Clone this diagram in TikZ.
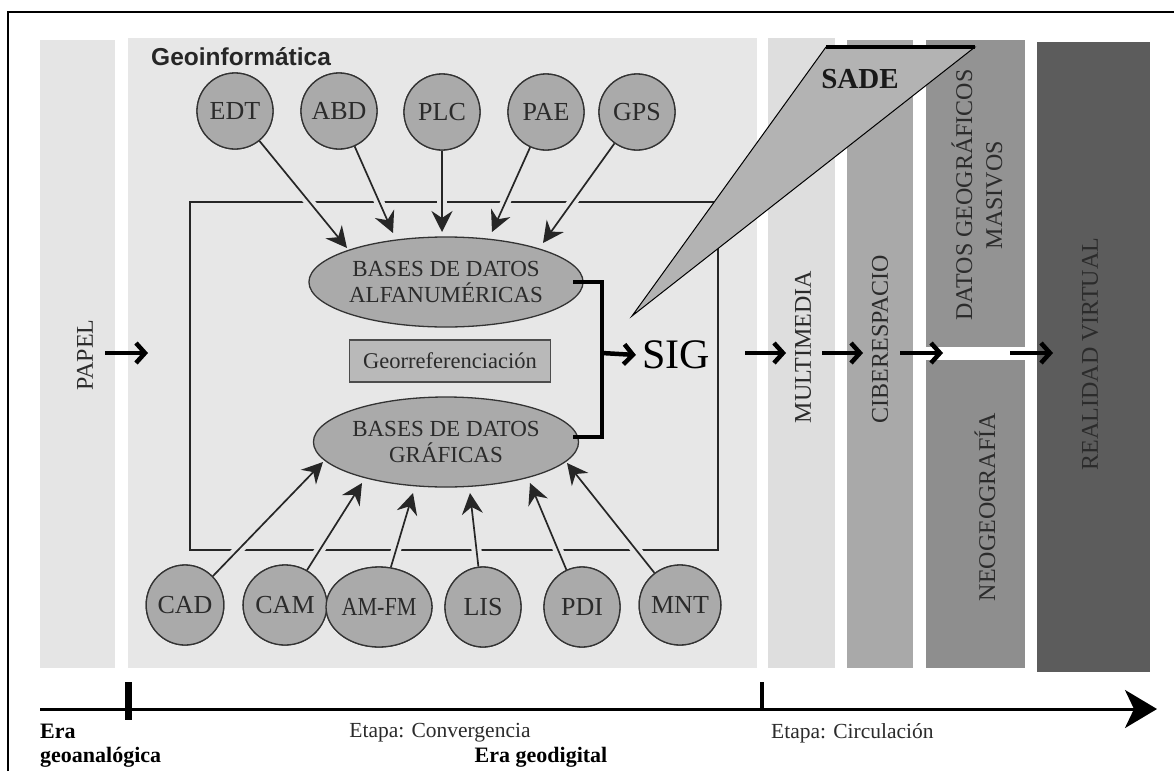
\documentclass[tikz,border=0pt]{standalone}
\usepackage{fontspec}
\setmainfont{Liberation Serif}
\newfontfamily\arialf{Liberation Sans}
\usetikzlibrary{arrows.meta,shapes.geometric}
\definecolor{geobg}{HTML}{E7E7E7}
\definecolor{papbg}{HTML}{E5E5E5}
\definecolor{mulbg}{HTML}{DEDEDE}
\definecolor{cibbg}{HTML}{A9A9A9}
\definecolor{datbg}{HTML}{939393}
\definecolor{neobg}{HTML}{8E8E8E}
\definecolor{rvbg}{HTML}{5C5C5C}
\definecolor{cgray}{HTML}{AAAAAA}
\definecolor{sadebg}{HTML}{B3B3B3}
\definecolor{boxbg}{HTML}{B9B9B9}
\definecolor{txt}{HTML}{2B2B2B}
\begin{document}
\begin{tikzpicture}[x=1pt,y=-1pt,
  tcirc/.style={circle, draw=black!80, line width=1.3pt, fill=cgray, minimum size=76pt, inner sep=0pt, text=txt, font=\fontsize{26}{28}\selectfont},
  bcirc/.style={ellipse, draw=black!80, line width=1.3pt, fill=cgray, minimum width=76pt, minimum height=80pt, inner sep=0pt, text=txt, font=\fontsize{26}{28}\selectfont},
  dbell/.style={ellipse, draw=black!80, line width=1.3pt, fill=cgray, minimum width=233pt, minimum height=90pt, inner sep=0pt, align=center, text=txt, font=\fontsize{23}{26}\selectfont},
  inarr/.style={draw=black!85, line width=1.7pt, -{Stealth[length=21pt,width=21pt,inset=7pt]}},
  gapline/.style={draw=geobg, line width=10pt, shorten <=8pt, shorten >=25pt},
  flow/.style={draw=black, line width=4.5pt, -{Straight Barb[length=9pt,width=20pt]}},
  vlabel/.style={rotate=90, text=txt, font=\fontsize{24}{30}\selectfont, align=center, inner sep=0pt},
  tltext/.style={text=txt, font=\fontsize{21.5}{24}\selectfont, inner sep=0pt},
  tlbold/.style={text=black, font=\bfseries\fontsize{22}{24}\selectfont, inner sep=0pt}]
\useasboundingbox (0,0) rectangle (1174,771);
\fill[white] (0,0) rectangle (1174,771);
% frame
\draw[line width=2.5pt] (8,771) -- (8,12) -- (1174,12);
% panels
\fill[papbg] (40,40) rectangle (115,668);
\fill[geobg] (128,38) rectangle (757,668);
\fill[mulbg] (768,38) rectangle (835,668);
\fill[cibbg] (847,40) rectangle (913,668);
\fill[datbg] (926,40) rectangle (1025,347);
\fill[neobg] (926,360) rectangle (1025,668);
\fill[rvbg] (1037,42) rectangle (1150,672);
% inner rectangle
\draw[line width=2.2pt, black!85] (190,202) rectangle (718,550);
% nodes
\node[tcirc] (edt) at (235,111) {EDT};
\node[tcirc] (abd) at (339,111) {ABD};
\node[tcirc] (plc) at (442,112) {PLC};
\node[tcirc] (pae) at (546,112) {PAE};
\node[tcirc] (gps) at (637,112) {GPS};
\node[bcirc] (cad) at (185,605) {CAD};
\node[bcirc] (cam) at (285,605) {CAM};
\node[bcirc] (amfm) at (379,607) {\scalebox{0.85}[1]{AM-FM}};
\node[bcirc] (lis) at (483,607) {LIS};
\node[bcirc] (pdi) at (582,607) {PDI};
\node[bcirc] (mnt) at (680,605) {MNT};
% arrow tips
\coordinate (t1) at (347,248);
\coordinate (t2) at (393,233);
\coordinate (t3) at (442,232);
\coordinate (t4) at (492,232);
\coordinate (t5) at (543,243);
\coordinate (b1) at (323,462);
\coordinate (b2) at (362,483);
\coordinate (b3) at (413,493);
\coordinate (b4) at (470,493);
\coordinate (b5) at (530,483);
\coordinate (b6) at (567,463);
% gaps in the rectangle edges
\foreach \s/\t in {edt/t1,abd/t2,plc/t3,pae/t4,gps/t5,cad/b1,cam/b2,amfm/b3,lis/b4,pdi/b5,mnt/b6}
  \path[gapline] (\s) -- (\t);
% arrows
\foreach \s/\t in {edt/t1,abd/t2,plc/t3,pae/t4,gps/t5,cad/b1,cam/b2,amfm/b3,lis/b4,pdi/b5,mnt/b6}
  \draw[inarr] (\s) -- (\t);
% redraw circles above arrow starts
\node[tcirc] at (edt) {EDT};
\node[tcirc] at (abd) {ABD};
\node[tcirc] at (plc) {PLC};
\node[tcirc] at (pae) {PAE};
\node[tcirc] at (gps) {GPS};
\node[bcirc] at (cad) {CAD};
\node[bcirc] at (cam) {CAM};
\node[bcirc] at (amfm) {\scalebox{0.85}[1]{AM-FM}};
\node[bcirc] at (lis) {LIS};
\node[bcirc] at (pdi) {PDI};
\node[bcirc] at (mnt) {MNT};
% data bases
\node[dbell] (ua) at (446,282) {BASES DE DATOS\\ALFANUMÉRICAS};
\node[dbell] (la) at (446,442) {BASES DE DATOS\\GRÁFICAS};
\node[draw=black!70, line width=1.3pt, fill=boxbg, minimum width=201pt, minimum height=42pt, inner sep=0pt, text=txt, font=\fontsize{22.5}{24}\selectfont] (geo) at (450,361) {Georreferenciación};
% bracket and SIG
\coordinate (bt) at (573,282);
\coordinate (bb) at (573,437);
\coordinate (bm) at (602,353);
\draw[line width=4pt, black] (bt) -- (602,282) -- (602,437) -- (bb);
\node[text=black, font=\fontsize{42}{42}\selectfont, inner sep=2pt] (sig) at (676,355) {SIG};
\draw[flow] (bm) -- ([xshift=-4pt]sig.west);
% SADE
\filldraw[fill=sadebg, draw=black, line width=1pt] (826,47) coordinate (s1) -- (975,47) coordinate (s2) -- (632,316) coordinate (s3) -- cycle;
\draw[line width=3.5pt] (s1) -- (s2);
\node[font=\bfseries\fontsize{29}{30}\selectfont, text=black!90] (sade) at (860,79) {SADE};
% panel labels
\node[vlabel] (papel) at (85,355) {PAPEL};
\node[vlabel] (mult) at (803,347) {MULTIMEDIA};
\node[vlabel] (cib) at (880,339) {CIBERESPACIO};
\node[vlabel] (dat) at (977,195) {DATOS GEOGRÁFICOS\\MASIVOS};
\node[vlabel] (neo) at (985,507) {NEOGEOGRAFÍA};
\node[vlabel] (rv) at (1090,354) {REALIDAD VIRTUAL};
\node[anchor=west, font=\arialf\bfseries\fontsize{24.5}{26}\selectfont, text=black!85, inner sep=0pt] (gi) at (151,57) {Geoinformática};
% flow arrows
\coordinate (p1) at (105,353); \coordinate (p2) at (148,353);
\coordinate (m1) at (745,353); \coordinate (m2) at (786,353);
\coordinate (c1) at (822,353); \coordinate (c2) at (863,353);
\coordinate (d1) at (900,353); \coordinate (d2) at (943,353);
\coordinate (r1) at (1010,353); \coordinate (r2) at (1053,353);
\draw[flow] (p1) -- (p2);
\draw[flow] (m1) -- (m2);
\draw[flow] (c1) -- (c2);
\draw[flow] (d1) -- (d2);
\draw[flow] (r1) -- (r2);
% timeline
\coordinate (ts) at (40,709);
\coordinate (te) at (1157,709);
\draw[line width=3pt, -{Stealth[length=32pt,width=38pt,inset=9pt]}] (ts) -- (te);
\draw[line width=7pt] (128,682) -- (128,720);
\draw[line width=3.5pt] (762,682) -- (762,711);
\node[tlbold, anchor=west] (era1) at (40,731) {Era};
\node[tlbold, anchor=west] (era2) at (40,757) {geoanalógica};
\node[tltext] (conv) at (440,733) {Etapa: Convergencia};
\node[tlbold] (erag) at (541,757) {Era geodigital};
\node[tltext, anchor=west] (circ) at (771,733) {Etapa: Circulación};
\end{tikzpicture}
\end{document}
